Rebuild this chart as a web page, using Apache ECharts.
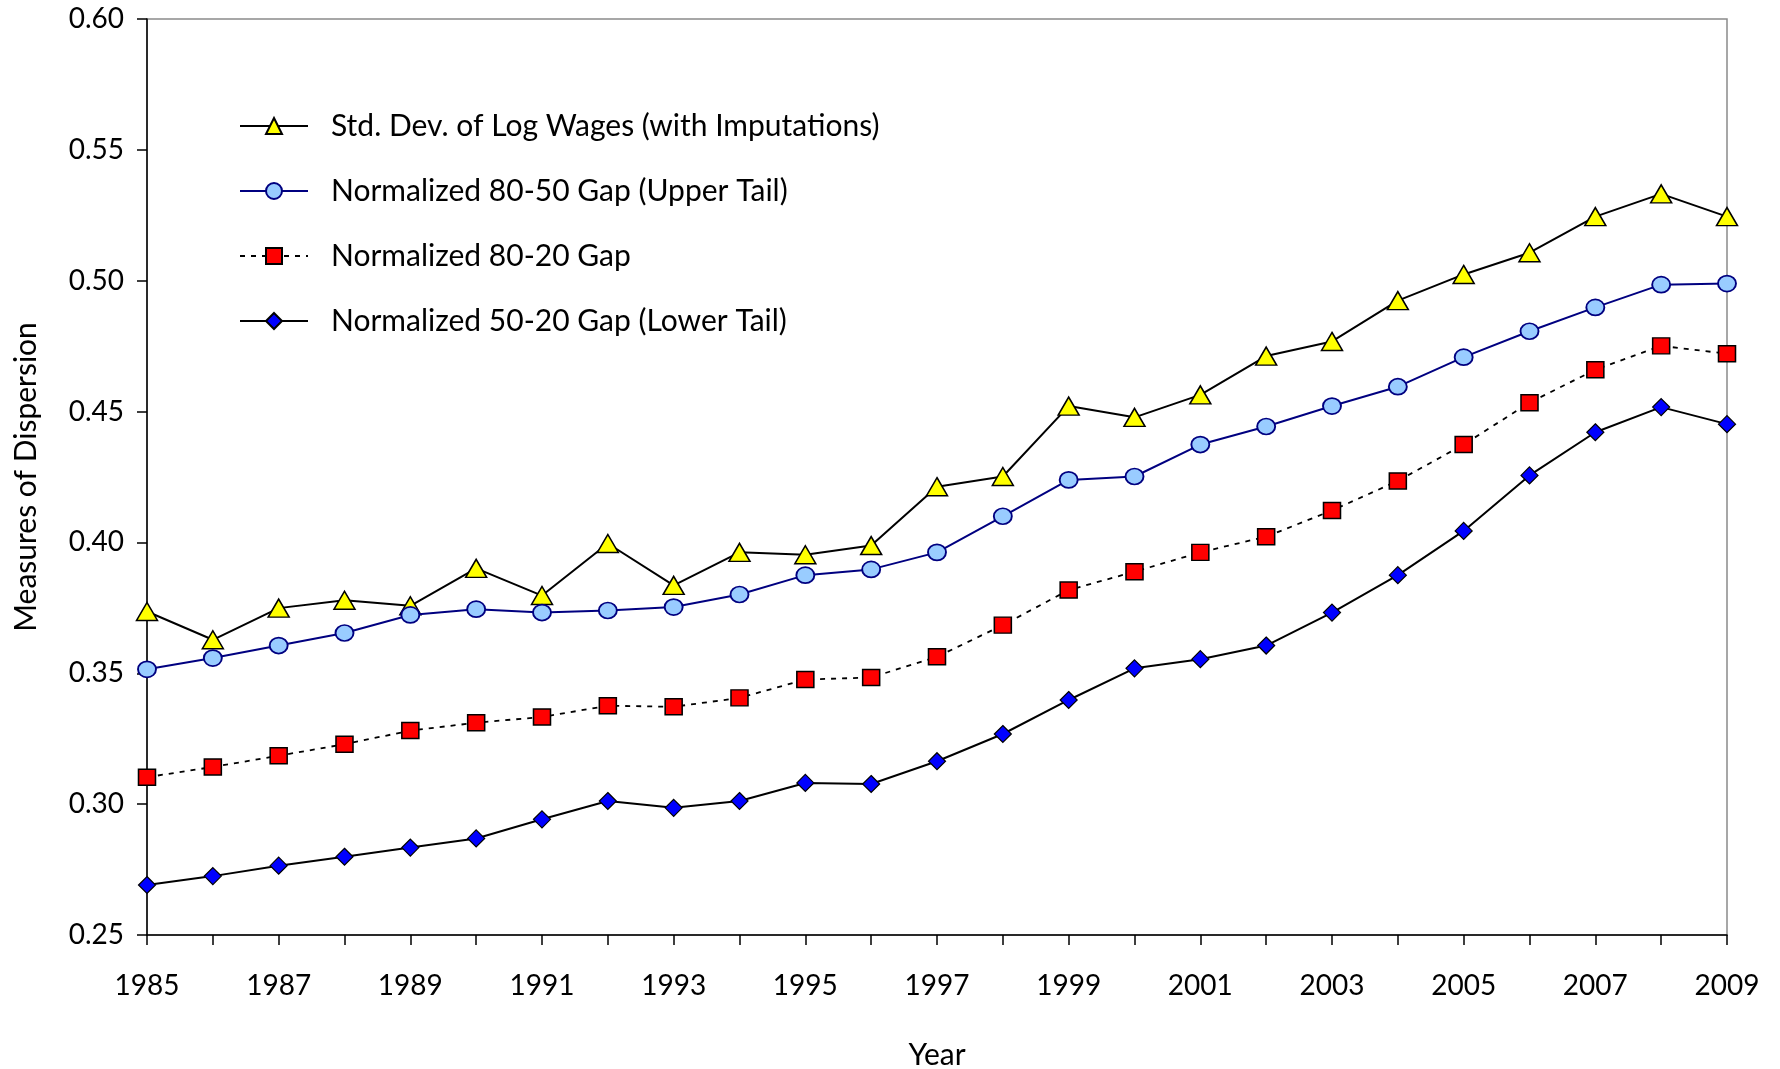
<!DOCTYPE html>
<html>
<head>
<meta charset="utf-8">
<script src="https://cdn.jsdelivr.net/npm/echarts@6/dist/echarts.min.js"></script>
<style>
  html, body { margin: 0; padding: 0; background: #fff; }
  #chart { width: 1780px; height: 1069px; }
</style>
</head>
<body>
<div id="chart"></div>
<script>
// ==================== 数据 ====================
const years = ['1985', '1986', '1987', '1988', '1989', '1990', '1991', '1992', '1993', '1994', '1995', '1996',
  '1997', '1998', '1999', '2000', '2001', '2002', '2003', '2004', '2005', '2006', '2007', '2008', '2009']

const stdDevLogWages = [0.3736, 0.3628, 0.3749, 0.3779, 0.3758, 0.3901, 0.3797, 0.3996, 0.3836, 0.3962, 0.3953, 0.3988,
  0.4213, 0.4252, 0.4521, 0.4478, 0.4564, 0.4712, 0.4768, 0.4924, 0.5024, 0.5107, 0.5245, 0.5332, 0.5245]

const gap8050 = [0.3515, 0.3558, 0.3606, 0.3654, 0.3723, 0.3745, 0.3732, 0.3740, 0.3753, 0.3801, 0.3875, 0.3897,
  0.3962, 0.4100, 0.4239, 0.4252, 0.4374, 0.4443, 0.4521, 0.4595, 0.4708, 0.4807, 0.4898, 0.4985, 0.4989]

const gap8020 = [0.3103, 0.3142, 0.3185, 0.3229, 0.3281, 0.3311, 0.3333, 0.3376, 0.3372, 0.3406, 0.3476, 0.3484,
  0.3563, 0.3684, 0.3818, 0.3888, 0.3962, 0.4022, 0.4122, 0.4235, 0.4374, 0.4534, 0.4660, 0.4751, 0.4721]

const gap5020 = [0.2691, 0.2725, 0.2765, 0.2799, 0.2834, 0.2869, 0.2942, 0.3012, 0.2986, 0.3012, 0.3081, 0.3077,
  0.3164, 0.3268, 0.3398, 0.3519, 0.3554, 0.3606, 0.3732, 0.3875, 0.4044, 0.4256, 0.4421, 0.4517, 0.4452]

const seriesNames = [
  'Std. Dev. of Log Wages (with Imputations)',
  'Normalized 80-50 Gap (Upper Tail)',
  'Normalized 80-20 Gap',
  'Normalized 50-20 Gap (Lower Tail)'
]

// ==================== 样式 ====================
const FONT = 'Lato'
const TEXT_SIZE = 30   // 图例、坐标轴名称
const TICK_SIZE = 28   // 刻度标签

const chart = echarts.init(document.getElementById('chart'), null, { renderer: 'canvas' })

const option = {
  animation: false,
  backgroundColor: '#ffffff',
  textStyle: { fontFamily: FONT, color: '#000' },
  grid: {
    left: 147, right: 53, top: 19, bottom: 134,
    outerBoundsMode: 'none',
    containLabel: false,
    show: true, borderColor: '#8a8a8a', borderWidth: 1.5
  },
  legend: {
    orient: 'vertical',
    left: 234,
    top: 106,
    itemWidth: 68,
    itemHeight: 20,
    itemGap: 35,
    textStyle: { fontFamily: FONT, fontSize: TEXT_SIZE, color: '#000', padding: [0, 0, 0, 18] },
    data: seriesNames
  },
  xAxis: {
    type: 'category',
    data: years,
    boundaryGap: false,
    name: 'Year',
    nameLocation: 'middle',
    nameGap: 105,
    nameTextStyle: { fontFamily: FONT, fontSize: TEXT_SIZE, color: '#000' },
    axisLine: { lineStyle: { color: '#000', width: 1.5 } },
    axisTick: { show: true, interval: 0, length: 10, lineStyle: { color: '#000', width: 1.5 } },
    axisLabel: { interval: 1, margin: 37, fontFamily: FONT, fontSize: TICK_SIZE, color: '#000' },
    splitLine: { show: false }
  },
  yAxis: {
    type: 'value',
    min: 0.25,
    max: 0.60,
    interval: 0.05,
    name: 'Measures of Dispersion',
    nameLocation: 'middle',
    nameGap: 106,
    nameTextStyle: { fontFamily: FONT, fontSize: TEXT_SIZE, color: '#000' },
    axisLine: { show: true, lineStyle: { color: '#000', width: 1.5 } },
    axisTick: { show: true, length: 10, lineStyle: { color: '#000', width: 1.5 } },
    axisLabel: {
      margin: 23, fontFamily: FONT, fontSize: TICK_SIZE, color: '#000',
      formatter: (v) => v.toFixed(2)
    },
    splitLine: { show: false }
  },
  series: [
    {
      name: seriesNames[0],
      type: 'line',
      data: stdDevLogWages,
      symbol: 'triangle',
      symbolSize: [21, 18],
      lineStyle: { color: '#000', width: 2 },
      itemStyle: { color: '#ffff00', borderColor: '#000', borderWidth: 1.5 },
      z: 2
    },
    {
      name: seriesNames[1],
      type: 'line',
      data: gap8050,
      symbol: 'circle',
      symbolSize: [18, 16],
      lineStyle: { color: '#000080', width: 2 },
      itemStyle: { color: '#99ccff', borderColor: '#000080', borderWidth: 1.8 },
      z: 3
    },
    {
      name: seriesNames[2],
      type: 'line',
      data: gap8020,
      symbol: 'rect',
      symbolSize: [17, 16],
      lineStyle: { color: '#000', width: 1.8, type: [5, 6] },
      itemStyle: { color: '#ff0000', borderColor: '#000', borderWidth: 1.5 },
      z: 4
    },
    {
      name: seriesNames[3],
      type: 'line',
      data: gap5020,
      symbol: 'diamond',
      symbolSize: [17, 17],
      lineStyle: { color: '#000', width: 2 },
      itemStyle: { color: '#0000ff', borderColor: '#000', borderWidth: 1.2 },
      z: 5
    }
  ]
}

chart.setOption(option)
</script>
</body>
</html>
